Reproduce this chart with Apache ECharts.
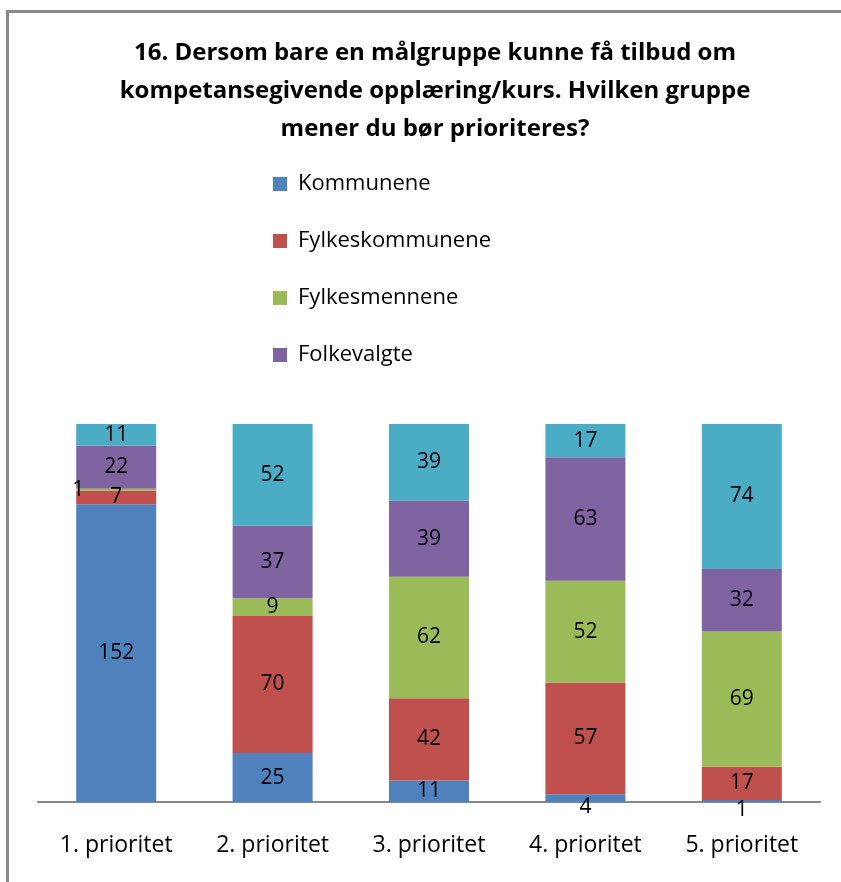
<!DOCTYPE html>
<html>
<head>
<meta charset="utf-8">
<script src="https://cdn.jsdelivr.net/npm/echarts@6/dist/echarts.min.js"></script>
<style>
  html, body { margin: 0; padding: 0; background: #fff; }
  #chart { width: 841px; height: 882px; }
</style>
</head>
<body>
<div id="chart"></div>
<script>
// kategorier og verdier lest av figuren
const categories = ['1. prioritet', '2. prioritet', '3. prioritet', '4. prioritet', '5. prioritet'];
const seriesNames = ['Kommunene', 'Fylkeskommunene', 'Fylkesmennene', 'Folkevalgte', 'Andre'];
const kommunene = [152, 25, 11, 4, 1];
const fylkeskommunene = [7, 70, 42, 57, 17];
const fylkesmennene = [1, 9, 62, 52, 69];
const folkevalgte = [22, 37, 39, 63, 32];
const andre = [11, 52, 39, 17, 74];
const colors = ['#4F81BD', '#C0504D', '#9BBB59', '#8064A2', '#4BACC6'];

const chart = echarts.init(document.getElementById('chart'));

function makeSeries(name, values, color, idx) {
  return {
    name: name,
    type: 'bar',
    stack: 'total',
    barWidth: 80,
    itemStyle: { color: color },
    label: {
      show: true,
      position: 'inside',
      color: '#000',
      fontFamily: 'Open Sans',
      fontSize: 21
    },
    data: values.map((v, i) => {
      // den lille "1" i første søyle står til venstre for søylen
      if (idx === 2 && i === 0) {
        return { value: v, label: { offset: [-38, 0] } };
      }
      // små tall nederst henger litt under aksen
      if (idx === 0 && v < 5) {
        return { value: v, label: { offset: [0, 9] } };
      }
      return v;
    })
  };
}

const option = {
  backgroundColor: '#fff',
  animation: false,
  title: {
    text: '16. Dersom bare en målgruppe kunne få tilbud om\nkompetansegivende opplæring/kurs. Hvilken gruppe\nmener du bør prioriteres?',
    left: 430,
    textAlign: 'center',
    top: 29,
    textStyle: {
      fontFamily: 'Open Sans',
      fontSize: 24,
      fontWeight: 'bold',
      color: '#000',
      lineHeight: 38
    }
  },
  legend: {
    orient: 'vertical',
    left: 268,
    top: 168,
    itemWidth: 14,
    itemHeight: 14,
    itemGap: 35,
    icon: 'rect',
    data: seriesNames.slice(0, 4),
    textStyle: { fontFamily: 'Open Sans', fontSize: 22, color: '#000', padding: [0, 0, 0, 6] }
  },
  grid: { left: 38, right: 21, top: 424, bottom: 80 },
  xAxis: {
    type: 'category',
    data: categories,
    axisLine: { lineStyle: { color: '#888', width: 2 } },
    axisTick: { show: false },
    axisLabel: { fontFamily: 'Open Sans', fontSize: 23, color: '#000', margin: 32 }
  },
  yAxis: {
    type: 'value',
    min: 0,
    max: 193,
    show: false,
    splitLine: { show: false }
  },
  graphic: [
    { type: 'rect', shape: { x: 6, y: 10, width: 835, height: 3 }, style: { fill: '#888' } },
    { type: 'rect', shape: { x: 6, y: 10, width: 3, height: 872 }, style: { fill: '#888' } }
  ],
  series: [
    makeSeries(seriesNames[0], kommunene, colors[0], 0),
    makeSeries(seriesNames[1], fylkeskommunene, colors[1], 1),
    makeSeries(seriesNames[2], fylkesmennene, colors[2], 2),
    makeSeries(seriesNames[3], folkevalgte, colors[3], 3),
    makeSeries(seriesNames[4], andre, colors[4], 4)
  ]
};

chart.setOption(option);
</script>
</body>
</html>
